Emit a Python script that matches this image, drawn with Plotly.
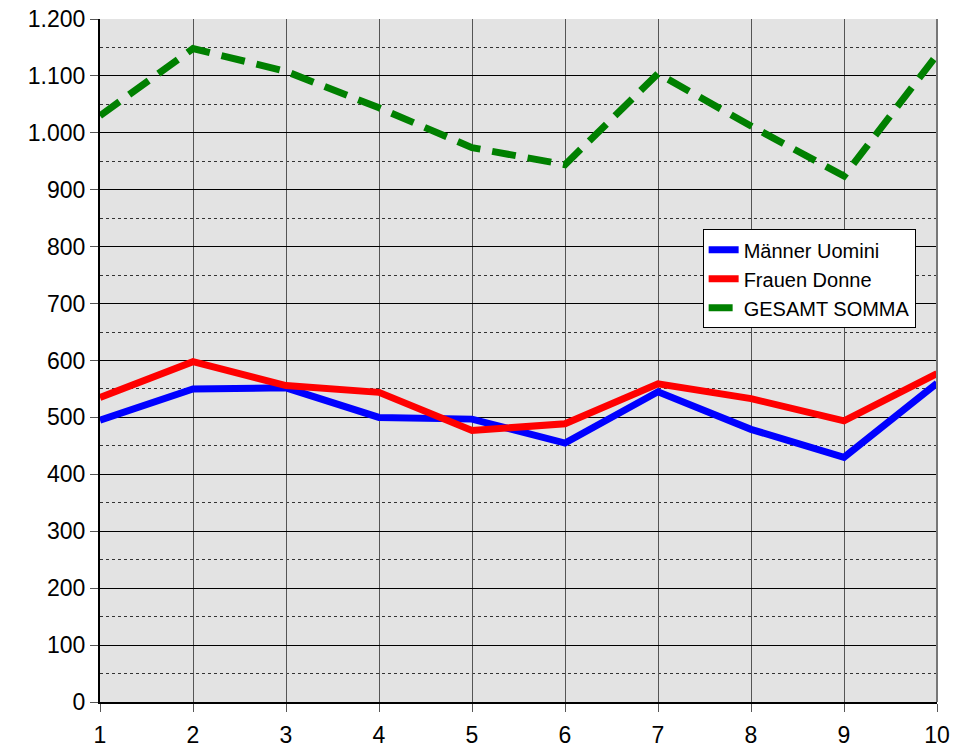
import plotly.graph_objects as go

periods = [1, 2, 3, 4, 5, 6, 7, 8, 9, 10]
maenner = [495, 550, 552, 500, 497, 455, 545, 479, 430, 560]
frauen = [535, 598, 556, 544, 477, 489, 559, 533, 494, 577]
gesamt = [1030, 1148, 1108, 1044, 974, 944, 1104, 1012, 924, 1137]

y_ticks = [0, 100, 200, 300, 400, 500, 600, 700, 800, 900, 1000, 1100, 1200]

_FONT = dict(family="Liberation Sans, Arial, sans-serif", size=23, color="black")

fig = go.Figure()
fig.add_trace(
    go.Scatter(
        x=periods,
        y=maenner,
        mode="lines",
        name="Männer Uomini",
        line=dict(color="#0000ff", width=7),
    )
)
fig.add_trace(
    go.Scatter(
        x=periods,
        y=frauen,
        mode="lines",
        name="Frauen Donne",
        line=dict(color="#ff0000", width=7),
    )
)
fig.add_trace(
    go.Scatter(
        x=periods,
        y=gesamt,
        mode="lines",
        name="GESAMT SOMMA",
        line=dict(color="#008000", width=7, dash="24px,12px"),
    )
)

fig.update_layout(
    width=973,
    height=747,
    margin=dict(l=100, r=36, t=19, b=45, autoexpand=False),
    paper_bgcolor="white",
    plot_bgcolor="#e3e3e3",
    separators=",.",
    font=_FONT,
    legend=dict(
        x=0.72,
        y=0.692,
        xanchor="left",
        yanchor="top",
        bgcolor="white",
        bordercolor="black",
        borderwidth=1,
        font=dict(size=20, color="black"),
        itemwidth=30,
        tracegroupgap=0,
    ),
    showlegend=True,
)

fig.update_xaxes(
    range=[1, 10],
    tickvals=periods,
    showgrid=True,
    gridcolor="#555555",
    gridwidth=1,
    showline=True,
    linecolor="black",
    linewidth=2,
    ticks="outside",
    ticklen=8,
    tickcolor="#555555",
    tickfont=_FONT,
    ticklabelstandoff=3,
    zeroline=False,
)
fig.update_yaxes(
    range=[0, 1200],
    tickvals=y_ticks,
    tickformat=",d",
    showgrid=True,
    gridcolor="black",
    gridwidth=1,
    minor=dict(dtick=50, showgrid=True, gridcolor="#333333", griddash="dot", gridwidth=1),
    showline=True,
    linecolor="black",
    linewidth=2,
    ticks="outside",
    ticklen=8,
    tickcolor="#555555",
    tickfont=_FONT,
    zeroline=False,
)

# right-hand frame edge of the plot area
fig.add_shape(
    type="line",
    xref="paper",
    yref="paper",
    x0=1,
    x1=1,
    y0=0,
    y1=1,
    line=dict(color="#777777", width=2),
)

fig.write_html(
    "out.html",
    config={"displayModeBar": False},
    post_script="document.body.style.margin='0';",
)
